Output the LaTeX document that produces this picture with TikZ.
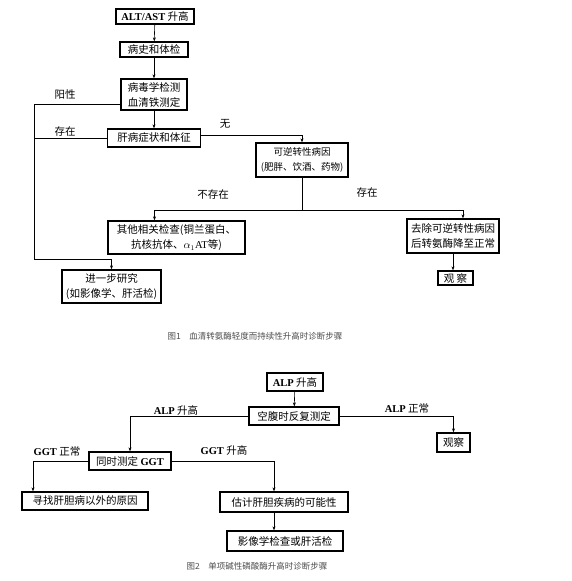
\documentclass[tikz,border=0pt]{standalone}
\usepackage{fontspec}
\setmainfont{Noto Sans CJK SC}
\newfontfamily\lat{Liberation Serif}
\usetikzlibrary{arrows.meta}
\tikzset{
  box/.style={draw, line width=1.3pt, inner sep=0pt, align=center,
    font=\fontsize{10.5}{15}\selectfont},
  conn/.style={line width=0.6pt},
  arr/.style={conn, -{Stealth[length=4pt,width=3pt]}},
  lbl/.style={font=\fontsize{10.5}{12}\selectfont},
  figcap/.style={font=\fontsize{8.5}{10}\selectfont, text=black!70}
}
\begin{document}
\begin{tikzpicture}[x=1pt, y=-1pt]

    \useasboundingbox (0,0) rectangle (572,581);

    % figure 1
    \node[box, minimum width=78, minimum height=15] at (155,16.5) (alt) {{\lat\bfseries ALT/AST} 升高};
    \node[box, minimum width=68, minimum height=15] at (154,49.5) (hist) {病史和体检};
    \node[box, minimum width=66, minimum height=31] at (154,94.5) (virus) {病毒学检测\\血清铁测定};
    \node[box, minimum width=93, minimum height=18] at (154,138) (liver) {肝病症状和体征};
    \node[box, minimum width=92, minimum height=34, font=\fontsize{9.5}{15}\selectfont] at (302,160) (rev) {可逆转性病因\\(肥胖、饮酒、药物)};
    \node[box, minimum width=137, minimum height=33] at (176.5,237.5) (other) {其他相关检查(铜兰蛋白、\\抗核抗体、$\alpha_1${\lat AT}等)};
    \node[box, minimum width=92, minimum height=34] at (453,236) (remove) {去除可逆转性病因\\后转氨酶降至正常};
    \node[box, minimum width=35, minimum height=14] at (455.5,278) (obsa) {观\ 察};
    \node[box, minimum width=99, minimum height=33] at (111.5,286.5) (further) {进一步研究\\(如影像学、肝活检)};

    \draw[arr] (alt) -- (hist);
    \draw[arr] (hist) -- (virus);
    \draw[arr] (virus) -- (liver);

    \coordinate (bend) at (34,259);
    \draw[arr] ([yshift=-10pt]virus.west) -| (bend) -| (further.north);
    \draw[conn] (liver.west) -- (liver.west -| bend);
    \node[lbl] at (65,95) (pos) {阳性};
    \node[lbl] at (65,132) (exa) {存在};

    \draw[arr] ([yshift=3pt]liver.east) -| (rev.north);
    \node[lbl] at (225,124) (none) {无};

    \coordinate (split) at (rev.south |- 0,210);
    \draw[conn] (rev.south) -- (split);
    \draw[arr] (split) -| ([xshift=-22pt]other.north);
    \draw[arr] (split) -| ([xshift=10pt]remove.north);
    \node[lbl] at (213,195) (notex) {不存在};
    \node[lbl] at (367,193) (exb) {存在};

    \draw[arr] (remove.south) -- (remove.south |- obsa.north);

    \node[figcap] at (255,336) (capa) {图1\quad 血清转氨酶轻度而持续性升高时诊断步骤};

    % figure 2
    \node[box, minimum width=56, minimum height=18] at (295,382) (alp) {{\lat\bfseries ALP} 升高};
    \node[box, minimum width=90, minimum height=18] at (294,416) (fast) {空腹时反复测定};
    \node[box, minimum width=33, minimum height=19] at (453.5,442.5) (obsb) {观察};
    \node[box, minimum width=82, minimum height=18] at (130,461) (ggt) {同时测定 {\lat\bfseries GGT}};
    \node[box, minimum width=126, minimum height=18] at (85,501) (seek) {寻找肝胆病以外的原因};
    \node[box, minimum width=128, minimum height=20] at (284,502) (est) {估计肝胆疾病的可能性};
    \node[box, minimum width=116, minimum height=20] at (285,541) (img) {影像学检查或肝活检};

    \draw[arr] (alp) -- (fast);
    \draw[arr] (fast.west) -| (ggt.north);
    \draw[arr] (fast.east) -| (obsb.north);
    \node[lbl] at (176,410) (alpup) {{\lat\bfseries ALP} 升高};
    \node[lbl] at (407,408) (alpok) {{\lat\bfseries ALP} 正常};

    \draw[arr] (ggt.west) -| ([xshift=-52pt]seek.north);
    \draw[arr] (ggt.east) -| ([xshift=-10pt]est.north);
    \node[lbl] at (57,451) (ggtok) {{\lat\bfseries GGT} 正常};
    \node[lbl] at (224,450) (ggtup) {{\lat\bfseries GGT} 升高};

    \draw[arr] ([xshift=-10pt]est.south) -- ([xshift=-10pt]est.south |- img.north);

    \node[figcap] at (257,566) (capb) {图2\quad 单项碱性磷酸酶升高时诊断步骤};
  \end{tikzpicture}
\end{document}
